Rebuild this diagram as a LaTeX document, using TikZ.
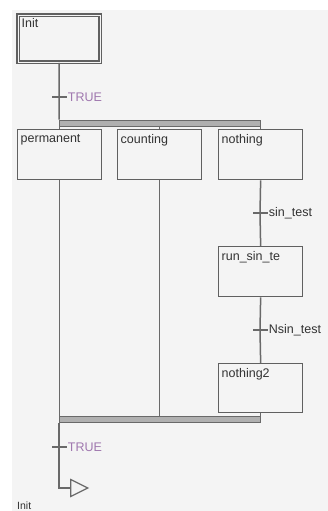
\documentclass[tikz,border=0pt]{standalone}
\usepackage{fontspec}
\setmainfont{Liberation Sans}
\usetikzlibrary{shapes.geometric}
\definecolor{sfcbg}{RGB}{244,244,244}
\definecolor{sfcline}{RGB}{105,105,105}
\definecolor{sfcbox}{RGB}{96,96,96}
\definecolor{sfcbar}{RGB}{176,176,176}
\definecolor{sfctrue}{RGB}{160,120,175}
\definecolor{sfctext}{RGB}{50,50,50}

\begin{document}
\begin{tikzpicture}[x=1pt, y=-1pt,
  stepbox/.style={draw=sfcbox, fill=sfcbg, line width=1.3pt, anchor=north west,
                  minimum width=84pt, minimum height=50pt, inner sep=0pt},
  initbox/.style={stepbox, double=sfcbg, double distance=1pt, line width=1.4pt},
  lbl/.style={anchor=north west, inner sep=0pt, xshift=3.5pt, yshift=-5pt,
              font=\fontsize{12.5}{14}\selectfont, text=sfctext},
  trans/.style={fill=sfcline, minimum width=15pt, minimum height=1.3pt, inner sep=0pt},
  trlbl/.style={font=\fontsize{12.5}{14}\selectfont, text=sfctext, inner sep=1pt},
  link/.style={draw=sfcline, line width=1.5pt},
  bar/.style={draw=sfcline, fill=sfcbar, line width=0.9pt, minimum height=6pt, inner sep=0pt},
  jump/.style={draw=sfcline, fill=sfcbg, line width=1.2pt, isosceles triangle,
               isosceles triangle stretches, minimum width=17pt, minimum height=17pt,
               inner sep=0pt}
]
  \useasboundingbox (0,0) rectangle (328,511);
  \fill[white] (0,0) rectangle (328,511);
  \fill[sfcbg] (12,10) rectangle (328,511);

  % steps
  \node[initbox, minimum width=82pt, minimum height=47pt,
        label={[lbl, xshift=0.5pt, yshift=1pt]north west:Init}] (init) at (17.5,14.5) {};
  \node[stepbox, label={[lbl]north west:permanent}] (permanent) at (17,129) {};
  \node[stepbox, label={[lbl]north west:counting}] (counting) at (117,129) {};
  \node[stepbox, label={[lbl]north west:nothing}] (nothing) at (218,129) {};
  \node[stepbox, label={[lbl]north west:run\_sin\_te}] (runsin) at (218,246) {};
  \node[stepbox, minimum height=49pt, label={[lbl]north west:nothing2}] (nothing2) at (218,363) {};

  % transitions
  \node[trans, label={[trlbl, text=sfctrue]east:TRUE}] (ttrue) at (59,97) {};
  \node[trans, label={[trlbl]east:sin\_test}] (tsin) at (260,213) {};
  \node[trans, label={[trlbl]east:Nsin\_test}] (tnsin) at (260,330) {};
  \node[trans, label={[trlbl, text=sfctrue]east:TRUE}] (tend) at (59,447) {};

  % parallel bars
  \node[bar, minimum width=201pt] (fork) at (159.5,123) {};
  \node[bar, minimum width=201pt] (join) at (159.5,419.5) {};

  % jump back
  \node[jump] (jmp) at (76,488) {};
  \node[anchor=north west, inner sep=0pt, font=\fontsize{10.5}{12}\selectfont,
        text=sfctext] (jmplbl) at (17,502) {Init};

  \draw[link] (init.south) -- (ttrue) -- (ttrue |- fork.north);
  \draw[link] (fork.south -| permanent.north) -- (permanent.north);
  \draw[link] (fork.south -| counting.north) -- (counting.north);
  \draw[link] (fork.south -| nothing.north) -- (nothing.north);
  \draw[link] (nothing.south) -- (tsin) -- (runsin.north);
  \draw[link] (runsin.south) -- (tnsin) -- (nothing2.north);
  \draw[link] (nothing2.south) -- (nothing2.south |- join.north);
  \draw[link] (counting.south) -- (counting.south |- join.north);
  \draw[link] (permanent.south) -- (permanent.south |- join.north);
  \draw[link] (join.south -| tend) -- (tend) -- (tend |- jmp.west) -- (jmp.west);
\end{tikzpicture}
\end{document}
